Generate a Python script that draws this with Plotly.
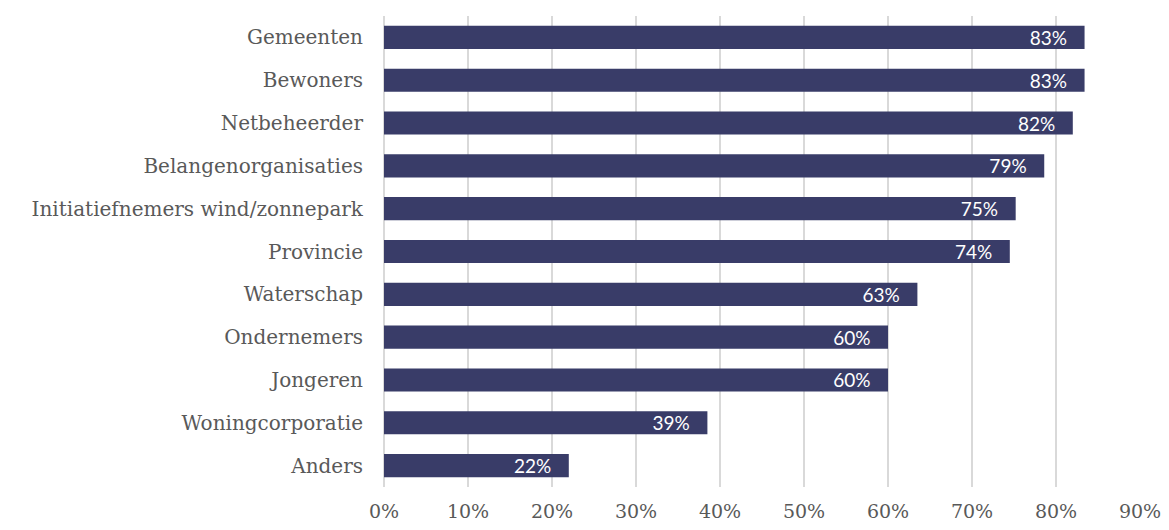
import plotly.graph_objects as go

categories = ["Gemeenten", "Bewoners", "Netbeheerder", "Belangenorganisaties",
              "Initiatiefnemers wind/zonnepark", "Provincie", "Waterschap",
              "Ondernemers", "Jongeren", "Woningcorporatie", "Anders"]
values = [83.4, 83.4, 82.0, 78.6, 75.2, 74.5, 63.5, 60.0, 60.0, 38.5, 22.0]
labels = ["83%", "83%", "82%", "79%", "75%", "74%", "63%", "60%", "60%", "39%", "22%"]
tick_vals = [0, 10, 20, 30, 40, 50, 60, 70, 80, 90]
tick_text = ["0%", "10%", "20%", "30%", "40%", "50%", "60%", "70%", "80%", "90%"]

pad = "\u00a0\u00a0\u00a0"
fig = go.Figure(go.Bar(
    y=categories, x=values, orientation="h",
    marker=dict(color="#393C68", line=dict(width=0)),
    text=[t + pad for t in labels], textposition="inside", insidetextanchor="end",
    textfont=dict(family="Lato, Liberation Sans, sans-serif", size=19, color="white"),
    constraintext="none",
    hoverinfo="skip",
))

fig.update_layout(
    width=1161, height=522,
    margin=dict(l=376, r=29, t=8, b=43),
    paper_bgcolor="white", plot_bgcolor="white",
    bargap=0.46,
    showlegend=False,
    font=dict(family="DejaVu Serif, serif", color="#595959", size=20),
)
fig.update_xaxes(range=[0, 90], tickvals=tick_vals, ticktext=tick_text,
                 showgrid=True, gridcolor="#D9D9D9", gridwidth=1.5,
                 zeroline=True, zerolinecolor="#D9D9D9", zerolinewidth=1.5,
                 showline=False, ticks="", tickfont=dict(size=19, color="#595959"),
                 automargin=False, ticklabelstandoff=11)
fig.update_yaxes(categoryorder="array", categoryarray=categories, autorange="reversed",
                 showgrid=False, ticks="", ticklen=0, tickfont=dict(size=20, color="#595959"),
                 automargin=False, ticklabelstandoff=20)

fig.write_html("out.html")
